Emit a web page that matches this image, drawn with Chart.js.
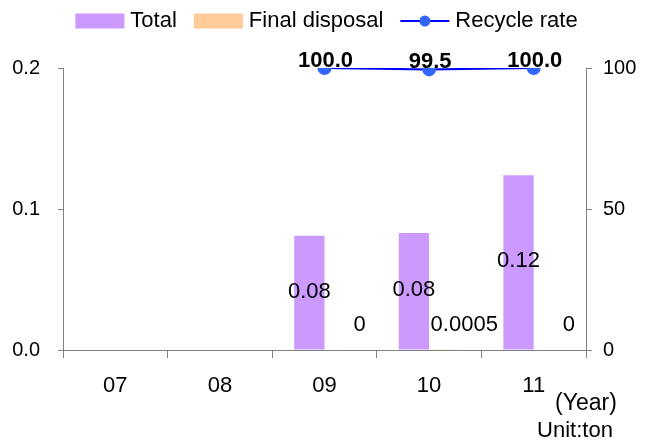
<!DOCTYPE html>
<html>
<head>
<meta charset="utf-8">
<script src="https://cdn.jsdelivr.net/npm/chart.js@4/dist/chart.umd.min.js"></script>
<style>
html,body{margin:0;padding:0;background:#fff;}
#wrap{width:651px;height:448px;position:relative;}
</style>
</head>
<body>
<div id="wrap"><canvas id="c" width="651" height="448"></canvas></div>
<script>
const categories = ['07', '08', '09', '10', '11'];
const totalValues = [null, null, 0.081, 0.083, 0.124];
const finalDisposalValues = [null, null, 0, 0.0005, 0];
const recycleRateValues = [null, null, 100.0, 99.5, 100.0];
const leftTicks = [0, 0.1, 0.2];
const rightTicks = [0, 50, 100];
const seriesNames = ['Total', 'Final disposal', 'Recycle rate'];

const FONT = '"Liberation Sans", Arial, sans-serif';
const PURPLE = '#CC99FF';
const ORANGE = '#FFCC99';
const LINE = '#0000FF';
const DOT = '#3366FF';
const AXIS = '#808080';

const labelsPlugin = {
  id: 'labelsPlugin',
  afterDatasetsDraw(chart) {
    const ctx = chart.ctx;
    ctx.save();
    ctx.fillStyle = '#000';
    const m0 = chart.getDatasetMeta(0);
    ctx.font = '22px ' + FONT;
    ctx.textAlign = 'center';
    ctx.textBaseline = 'middle';
    m0.data.forEach((el, i) => {
      const v = totalValues[i];
      if (v == null) return;
      ctx.fillText(v.toFixed(2), el.x, (el.y + el.base) / 2 - 1);
    });
    const m1 = chart.getDatasetMeta(1);
    m1.data.forEach((el, i) => {
      const v = finalDisposalValues[i];
      if (v == null) return;
      ctx.fillText(String(v), el.x + 20, el.base - 25);
    });
    const m2 = chart.getDatasetMeta(2);
    ctx.font = 'bold 22px ' + FONT;
    ctx.textBaseline = 'alphabetic';
    m2.data.forEach((el, i) => {
      const v = recycleRateValues[i];
      if (v == null) return;
      ctx.fillText(v.toFixed(1), el.x + 1, el.y - 1);
    });
    const ca = chart.chartArea;
    ctx.font = '23px ' + FONT;
    ctx.textAlign = 'center';
    ctx.textBaseline = 'middle';
    ctx.fillText('(Year)', ca.right, ca.bottom + 54);
    ctx.font = '22px ' + FONT;
    ctx.fillText('Unit:ton', ca.right - 11, ca.bottom + 81);
    ctx.restore();
  }
};

const legendPlugin = {
  id: 'customLegend',
  afterDraw(chart) {
    const ctx = chart.ctx;
    ctx.save();
    ctx.font = '22px ' + FONT;
    const boxW = 49, boxH = 15, gap = 6, itemGap = 17;
    const widths = seriesNames.map(n => boxW + gap + ctx.measureText(n).width);
    const total = widths.reduce((a, b) => a + b, 0) + itemGap * (seriesNames.length - 1);
    let x = chart.width / 2 + 1 - total / 2;
    const cy = 21;
    seriesNames.forEach((n, i) => {
      if (i === 2) {
        ctx.strokeStyle = LINE;
        ctx.lineWidth = 2;
        ctx.beginPath();
        ctx.moveTo(x, cy);
        ctx.lineTo(x + boxW, cy);
        ctx.stroke();
        ctx.fillStyle = DOT;
        ctx.beginPath();
        ctx.arc(x + boxW / 2, cy, 5.5, 0, Math.PI * 2);
        ctx.fill();
      } else {
        ctx.fillStyle = i === 0 ? PURPLE : ORANGE;
        ctx.fillRect(x, cy - boxH / 2, boxW, boxH);
      }
      ctx.fillStyle = '#000';
      ctx.textAlign = 'left';
      ctx.textBaseline = 'middle';
      ctx.fillText(n, x + boxW + gap, cy);
      x += widths[i] + itemGap;
    });
    ctx.restore();
  }
};

new Chart(document.getElementById('c'), {
  data: {
    labels: categories,
    datasets: [
      { type: 'bar', label: seriesNames[0], data: totalValues, backgroundColor: PURPLE, yAxisID: 'y', order: 2, categoryPercentage: 0.58, barPercentage: 1 },
      { type: 'bar', label: seriesNames[1], data: finalDisposalValues, backgroundColor: ORANGE, yAxisID: 'y', order: 2, categoryPercentage: 0.58, barPercentage: 1 },
      { type: 'line', label: seriesNames[2], data: recycleRateValues, borderColor: LINE, borderWidth: 2, backgroundColor: DOT, pointBackgroundColor: DOT, pointBorderColor: DOT, pointRadius: 6, yAxisID: 'y1', order: 1, tension: 0 }
    ]
  },
  options: {
    responsive: false,
    animation: false,
    layout: { padding: { top: 68, bottom: 0, left: 0, right: 0 } },
    plugins: { legend: { display: false }, tooltip: { enabled: false } },
    scales: {
      x: {
        offset: true,
        grid: { offset: true, drawOnChartArea: false, drawTicks: true, tickLength: 8, color: AXIS },
        border: { color: AXIS, width: 1 },
        ticks: { color: '#000', font: { family: FONT, size: 22 }, padding: 15 },
        afterFit(s) { s.height = 98; }
      },
      y: {
        position: 'left',
        min: 0, max: 0.2,
        afterBuildTicks(s) { s.ticks = leftTicks.map(v => ({ value: v })); },
        grid: { drawOnChartArea: false, tickLength: 5, color: AXIS },
        border: { color: AXIS, width: 1 },
        ticks: { color: '#000', font: { family: FONT, size: 20 }, padding: 18, callback: v => v.toFixed(1) },
        afterFit(s) { s.width = 63; }
      },
      y1: {
        position: 'right',
        min: 0, max: 100,
        afterBuildTicks(s) { s.ticks = rightTicks.map(v => ({ value: v })); },
        grid: { drawOnChartArea: false, tickLength: 6, color: AXIS },
        border: { color: AXIS, width: 1 },
        ticks: { color: '#000', font: { family: FONT, size: 20 }, padding: 11, callback: v => String(v) },
        afterFit(s) { s.width = 65; }
      }
    }
  },
  plugins: [labelsPlugin, legendPlugin]
});
</script>
</body>
</html>
